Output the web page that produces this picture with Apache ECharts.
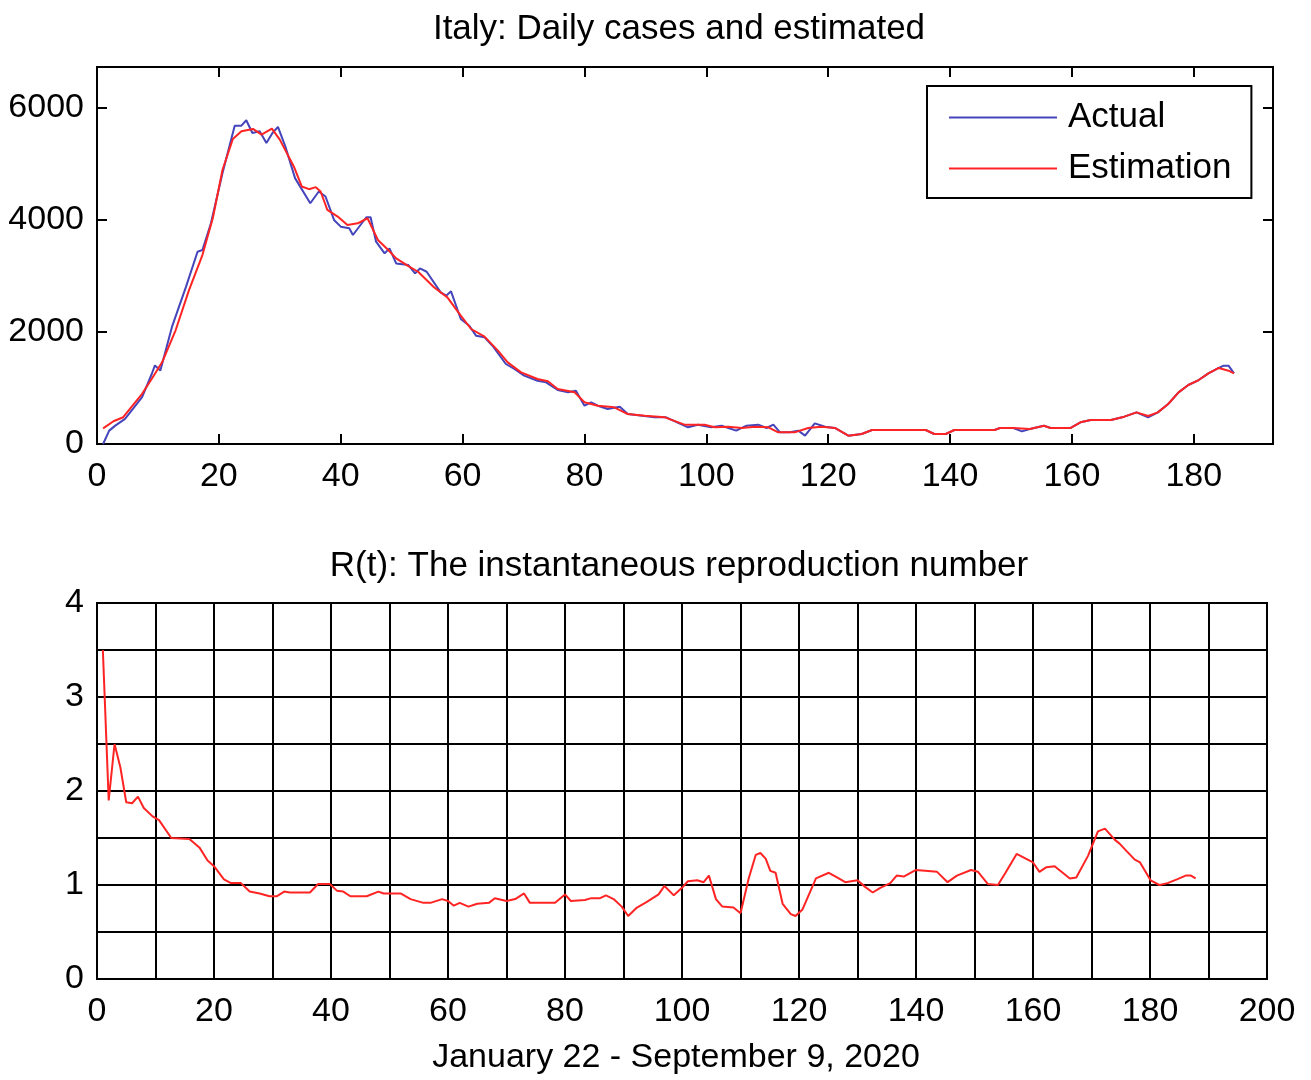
<!DOCTYPE html>
<html>
<head>
<meta charset="utf-8">
<title>Italy: Daily cases and R(t)</title>
<script src="https://cdn.jsdelivr.net/npm/echarts@6/dist/echarts.min.js"></script>
<style>
  html, body { margin: 0; padding: 0; background: #fff; }
  #main { width: 1311px; height: 1080px; }
</style>
</head>
<body>
<div id="main"></div>
<script>
// top panel: daily cases (day index, value)
var actualDays = [1,2,3,4.6,7.4,9,9.5,10.4,12.3,14.6,
  16.5,17.3,18.7,20.6,22.6,23.7,24.5,25.5,26.7,27.8,
  28.8,29.7,30.9,32.5,35,36.4,37.5,38.9,40,41.4,
  42,44.2,44.9,45.8,47.2,48,49.1,51.1,52.2,53,
  54.1,56.4,57.3,58.1,59.7,61.1,62.2,63.6,64.9,67.1,
  68.5,70.1,72.3,73.7,75.6,77.3,78.6,80,81.1,82.2,
  83.8,85.8,87.1,91.5,93.4,97,98.6,100.8,102.5,104.9,
  106.6,108.5,109.9,111,112.1,113.7,115.1,116.2,117.8,119.5,
  121.1,123.3,125.5,127.2,136,137.4,139.3,140.7,147.3,148.2,
  150.4,151.8,153.1,155.4,156.5,159.8,161.4,163.1,166.4,168.6,
  170.6,172.5,174.1,175.8,177.5,179.1,180.8,182.4,184.1,184.9,
  185.7,186.6];
var actualCases = [0,239,328,448,836,1254,1403,1313,2090,2806,
  3433,3463,3940,4836,5683,5683,5779,5552,5582,5373,
  5552,5660,5313,4746,4298,4507,4418,4000,3880,3850,
  3731,4048,4048,3612,3403,3492,3224,3194,3045,3134,
  3075,2707,2648,2725,2231,2112,1934,1904,1755,1428,
  1339,1220,1130,1100,964,922,952,684,744,684,
  625,666,535,476,476,298,345,298,327,238,
  327,345,286,345,208,208,238,149,369,309,
  286,149,178,250,250,178,178,250,250,286,
  286,226,268,327,286,286,387,428,428,488,
  565,476,565,714,922,1053,1142,1261,1357,1398,
  1398,1261];

var estDays = [1,2.7,4.3,7.4,9,10.7,12.9,15.1,17.3,
  19,20.6,22.3,23.7,25.6,27,28.7,30,32.3,33.6,
  34.8,35.9,36.7,37.8,39.5,41.1,42.8,44.4,46.1,47.8,
  49.1,51.1,52.7,55.3,57.5,59.7,61.4,63.6,65.8,67.4,
  69.6,72.3,74,75.6,78.4,80,82.2,84.9,87.1,89.9,
  93.2,96.4,99.7,101.4,103.6,105.8,108,110.2,111.8,114.5,
  116.7,118.9,121.1,123.3,125.5,127.2,136,137.4,139.3,140.7,
  147.3,148.2,150.4,153.1,155.4,156.5,159.8,161.4,163.1,166.4,
  168.6,170.6,172.5,174.1,175.8,177.5,179.1,180.8,182.4,184.1,
  185.7,186.6];
var estCases = [280,406,478,896,1164,1463,2030,2746,3373,
  4030,4895,5445,5582,5624,5522,5630,5433,4955,4597,
  4549,4585,4507,4179,4060,3910,3940,4030,3642,3463,
  3313,3176,3075,2797,2618,2291,2053,1916,1666,1458,
  1279,1160,1119,982,922,744,684,655,535,506,
  476,345,345,298,309,286,309,298,208,208,
  286,309,286,149,178,250,250,178,178,250,
  250,286,286,268,327,286,286,387,428,428,
  488,565,500,565,714,922,1053,1142,1261,1357,
  1309,1261];

// bottom panel: R(t)
var rDays = [1,2,3,4,5,6,7,8,9.5,10.6,
  12.7,15.8,17.5,18.9,20,21.7,22.9,24.6,26.1,27.8,
  29.5,30.7,32,33,36.4,37.8,39.8,41,42.1,43.3,
  46.1,48.1,49,51.9,53.6,55.8,57,59,60,61,
  62,63.5,65,67,68,70,71.5,73,74,78.3,
  80,81,83.4,84.5,86,87,88.3,89.7,90.8,92.3,
  94,96,97,98.6,100,101,102.6,103.7,104.6,105.8,
  106.9,108.8,110,111.4,112.6,113.4,114.3,115.1,116,117.2,
  118.6,119.4,120.6,122.9,125.1,126.5,127.9,130,131.3,132.6,
  133.9,135.6,136.7,137.9,140,143.6,145.4,147,149.4,150.6,
  152.3,154,155.3,157.2,160,161.1,162.3,163.7,166.3,167.4,
  169.4,171.1,172.3,174,174.8,176,177.4,178.3,180.1,181.6,
  183,184.6,186.1,187,187.8];
var rValues = [3.5,1.9,2.5,2.25,1.88,1.87,1.94,1.82,1.73,1.69,
  1.5,1.49,1.4,1.26,1.2,1.06,1.02,1.02,0.93,0.91,
  0.88,0.88,0.93,0.92,0.92,1.01,1.01,0.94,0.93,0.88,
  0.88,0.93,0.91,0.91,0.85,0.81,0.81,0.85,0.83,0.78,
  0.81,0.77,0.8,0.81,0.86,0.83,0.85,0.91,0.81,0.81,
  0.9,0.83,0.84,0.86,0.86,0.89,0.85,0.77,0.67,0.76,
  0.82,0.9,0.99,0.89,0.97,1.04,1.05,1.03,1.1,0.85,
  0.77,0.76,0.7,1.07,1.32,1.34,1.28,1.15,1.13,0.8,
  0.69,0.67,0.74,1.07,1.13,1.08,1.03,1.05,0.98,0.92,
  0.97,1.02,1.1,1.09,1.16,1.14,1.03,1.1,1.16,1.14,
  1.01,1.0,1.13,1.33,1.24,1.14,1.19,1.2,1.07,1.08,
  1.31,1.57,1.6,1.48,1.44,1.36,1.27,1.24,1.05,1.0,
  1.02,1.06,1.1,1.1,1.07];

var FONT = "'Liberation Sans', Arial, Helvetica, sans-serif";

function pairs(xs, ys) {
    return xs.map(function (x, i) { return [x, ys[i]]; });
}

// ticks pointing into the plot box
var tickStyle = { show: true, inside: true, length: 10, lineStyle: { color: '#000', width: 2 } };
var lineBlack = { show: true, onZero: false, lineStyle: { color: '#000', width: 2 } };
var noLine = { show: false, onZero: false };   // onZero off so top/right axes stay on their side
var labelStyle = { color: '#000', fontSize: 34, fontFamily: FONT };

const chart = echarts.init(document.getElementById('main'));
const option = {
    animation: false,
    backgroundColor: '#fff',
    graphic: [
        { type: 'text', x: 679, y: 29, style: { text: 'Italy: Daily cases and estimated', font: '35px ' + FONT, fill: '#000', align: 'center', verticalAlign: 'middle' } },
        { type: 'text', x: 679, y: 566, style: { text: 'R(t): The instantaneous reproduction number', font: '35px ' + FONT, fill: '#000', align: 'center', verticalAlign: 'middle' } },
        { type: 'text', x: 676, y: 1058, style: { text: 'January 22 - September 9, 2020', font: '34px ' + FONT, fill: '#000', align: 'center', verticalAlign: 'middle' } }
    ],
    legend: {
        data: ['Actual', 'Estimation'],
        orient: 'vertical',
        left: 927,
        top: 86,
        padding: [14, 20, 12, 22],
        itemGap: 16,
        itemWidth: 108,
        itemHeight: 2,
        icon: 'rect',
        borderColor: '#000',
        borderWidth: 2,
        backgroundColor: '#fff',
        textStyle: { color: '#000', fontSize: 35, fontFamily: FONT, padding: [0, 0, 0, 6] }
    },
    grid: [
        { left: 97, top: 67, width: 1176, height: 377, show: true, borderColor: '#000', borderWidth: 2, containLabel: false },
        { left: 97, top: 603, width: 1170, height: 376, show: true, borderColor: '#000', borderWidth: 2, containLabel: false }
    ],
    xAxis: [
        {
            gridIndex: 0, type: 'value', position: 'bottom', min: 0, max: 193, interval: 20,
            axisLine: lineBlack, axisTick: tickStyle, splitLine: { show: false },
            axisLabel: Object.assign({ margin: 16, formatter: function (v) { return v % 20 === 0 ? v : ''; } }, labelStyle)
        },
        {
            gridIndex: 0, type: 'value', position: 'top', min: 0, max: 193, interval: 20,
            axisLine: noLine, axisTick: tickStyle, splitLine: { show: false }, axisLabel: { show: false }
        },
        {
            gridIndex: 1, type: 'value', position: 'bottom', min: 0, max: 200, interval: 10,
            axisLine: lineBlack, axisTick: { show: false },
            splitLine: { show: true, lineStyle: { color: '#000', width: 2 } },
            axisLabel: Object.assign({ margin: 16, formatter: function (v) { return v % 20 === 0 ? v : ''; } }, labelStyle)
        }
    ],
    yAxis: [
        {
            gridIndex: 0, type: 'value', position: 'left', min: 0, max: 6730, interval: 2000,
            axisLine: lineBlack, axisTick: tickStyle, splitLine: { show: false },
            axisLabel: Object.assign({ margin: 13, padding: [8, 0, 0, 0], formatter: function (v) { return v % 2000 === 0 ? v : ''; } }, labelStyle)
        },
        {
            gridIndex: 0, type: 'value', position: 'right', min: 0, max: 6730, interval: 2000,
            axisLine: noLine, axisTick: tickStyle, splitLine: { show: false }, axisLabel: { show: false }
        },
        {
            gridIndex: 1, type: 'value', position: 'left', min: 0, max: 4, interval: 0.5,
            axisLine: lineBlack, axisTick: { show: false },
            splitLine: { show: true, lineStyle: { color: '#000', width: 2 } },
            axisLabel: Object.assign({ margin: 13, padding: [12, 0, 0, 0], formatter: function (v) { return Number.isInteger(v) ? v : ''; } }, labelStyle)
        }
    ],
    series: [
        {
            name: 'Actual', type: 'line', xAxisIndex: 0, yAxisIndex: 0,
            data: pairs(actualDays, actualCases), symbol: 'none',
            itemStyle: { color: '#4444bb' }, lineStyle: { color: '#4444bb', width: 2 }
        },
        {
            name: 'Estimation', type: 'line', xAxisIndex: 0, yAxisIndex: 0,
            data: pairs(estDays, estCases), symbol: 'none',
            itemStyle: { color: '#ff2424' }, lineStyle: { color: '#ff2424', width: 2 }
        },
        {
            name: 'R(t)', type: 'line', xAxisIndex: 2, yAxisIndex: 2,
            data: pairs(rDays, rValues), symbol: 'none', z: 5,
            itemStyle: { color: '#ff2424' }, lineStyle: { color: '#ff2424', width: 2 }
        }
    ]
};
chart.setOption(option);
</script>
</body>
</html>
